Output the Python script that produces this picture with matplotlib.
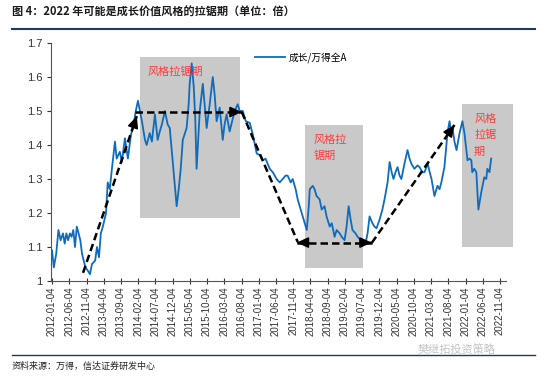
import matplotlib
matplotlib.use("Agg")
import matplotlib.pyplot as plt
import matplotlib.patches as patches
import matplotlib.dates as mdates
import pandas as pd

plt.rcParams['font.family'] = ['Liberation Sans', 'Noto Sans CJK SC', 'DejaVu Sans']

# growth / wind all-A ratio
dates = ['2012-01-04', '2012-01-20', '2012-02-10', '2012-03-01', '2012-03-20', '2012-04-10',
         '2012-04-25', '2012-05-10', '2012-05-25', '2012-06-10', '2012-06-25', '2012-07-10',
         '2012-07-25', '2012-08-10', '2012-08-25', '2012-09-10', '2012-09-25', '2012-10-10',
         '2012-10-25', '2012-11-16', '2012-12-04', '2012-12-22', '2013-01-19', '2013-02-04',
         '2013-02-22', '2013-03-10', '2013-03-28', '2013-04-25', '2013-05-10', '2013-05-28',
         '2013-06-16', '2013-07-13', '2013-07-28', '2013-08-25', '2013-09-12', '2013-10-09',
         '2013-11-04', '2013-12-01', '2013-12-19', '2014-01-13', '2014-02-01', '2014-02-19',
         '2014-03-08', '2014-04-04', '2014-04-19', '2014-05-16', '2014-06-04', '2014-07-01',
         '2014-07-25', '2014-08-13', '2014-08-31', '2014-09-27', '2014-10-22', '2014-11-09',
         '2014-12-06', '2014-12-24', '2015-01-09', '2015-01-27', '2015-02-14', '2015-03-04',
         '2015-04-07', '2015-04-25', '2015-05-04', '2015-05-22', '2015-06-09', '2015-06-22',
         '2015-07-04', '2015-07-22', '2015-08-01', '2015-08-28', '2015-09-13', '2015-10-01',
         '2015-10-28', '2015-11-24', '2015-12-10', '2015-12-28', '2016-01-24', '2016-02-20',
         '2016-03-07', '2016-03-25', '2016-04-21', '2016-05-09', '2016-06-04', '2016-07-01',
         '2016-07-19', '2016-08-15', '2016-09-10', '2016-10-16', '2016-11-12', '2016-12-16',
         '2017-01-13', '2017-02-09', '2017-03-04', '2017-04-10', '2017-05-07', '2017-06-10',
         '2017-07-07', '2017-08-03', '2017-08-28', '2017-09-15', '2017-10-12', '2017-10-30',
         '2017-11-25', '2017-12-13', '2018-01-09', '2018-01-27', '2018-02-13', '2018-03-03',
         '2018-03-21', '2018-03-30', '2018-04-25', '2018-05-11', '2018-05-29', '2018-06-25',
         '2018-07-13', '2018-08-07', '2018-08-25', '2018-09-22', '2018-10-10', '2018-11-04',
         '2018-11-22', '2018-12-19', '2019-01-06', '2019-01-31', '2019-02-18', '2019-03-08',
         '2019-03-26', '2019-04-11', '2019-05-08', '2019-05-26', '2019-06-22', '2019-07-07',
         '2019-08-04', '2019-08-22', '2019-09-09', '2019-10-04', '2019-10-22', '2019-11-09',
         '2019-12-06', '2019-12-31', '2020-01-19', '2020-02-15', '2020-03-04', '2020-03-22',
         '2020-04-07', '2020-04-25', '2020-05-13', '2020-05-31', '2020-06-16', '2020-07-13',
         '2020-08-09', '2020-08-27', '2020-09-12', '2020-10-09', '2020-11-05', '2020-11-23',
         '2020-12-19', '2021-01-06', '2021-02-03', '2021-02-21', '2021-03-09', '2021-04-04',
         '2021-05-01', '2021-05-19', '2021-06-04', '2021-07-01', '2021-07-28', '2021-08-15',
         '2021-08-31', '2021-09-10', '2021-09-28', '2021-10-16', '2021-11-12', '2021-12-07',
         '2021-12-25', '2022-01-21', '2022-02-08', '2022-02-24', '2022-03-04', '2022-03-22',
         '2022-04-09', '2022-04-27', '2022-05-22', '2022-06-18', '2022-07-06', '2022-07-15',
         '2022-08-03', '2022-08-18']
ratio = [1.09, 1.04, 1.08, 1.15, 1.12, 1.14,
         1.11, 1.14, 1.12, 1.14, 1.13, 1.15,
         1.10, 1.16, 1.14, 1.12, 1.08, 1.06,
         1.04, 1.03, 1.02, 1.05, 1.06, 1.10,
         1.07, 1.14, 1.16, 1.20, 1.29, 1.27,
         1.33, 1.41, 1.36, 1.38, 1.35, 1.42,
         1.36, 1.43, 1.45, 1.50, 1.53, 1.50,
         1.47, 1.415, 1.40, 1.435, 1.41, 1.49,
         1.415, 1.44, 1.46, 1.50, 1.46, 1.45,
         1.35, 1.28, 1.22, 1.27, 1.33, 1.415,
         1.45, 1.52, 1.58, 1.64, 1.57, 1.48,
         1.33, 1.44, 1.50, 1.58, 1.52, 1.45,
         1.52, 1.60, 1.55, 1.47, 1.51, 1.415,
         1.46, 1.49, 1.44, 1.465, 1.50, 1.52,
         1.50, 1.50, 1.47, 1.465, 1.43, 1.375,
         1.37, 1.355, 1.36, 1.33, 1.32, 1.30,
         1.29, 1.30, 1.31, 1.31, 1.29, 1.30,
         1.27, 1.24, 1.21, 1.19, 1.17, 1.15,
         1.22, 1.27, 1.28, 1.27, 1.25, 1.24,
         1.21, 1.22, 1.19, 1.16, 1.17, 1.13,
         1.15, 1.14, 1.13, 1.12, 1.16, 1.22,
         1.18, 1.15, 1.14, 1.13, 1.12, 1.12,
         1.11, 1.14, 1.19, 1.17, 1.16, 1.155,
         1.18, 1.21, 1.24, 1.29, 1.35, 1.32,
         1.30, 1.32, 1.335, 1.31, 1.30, 1.345,
         1.385, 1.36, 1.345, 1.33, 1.34, 1.335,
         1.32, 1.32, 1.345, 1.32, 1.30, 1.25,
         1.28, 1.27, 1.29, 1.335, 1.435, 1.47,
         1.435, 1.45, 1.41, 1.385, 1.435, 1.47,
         1.435, 1.355, 1.36, 1.355, 1.32, 1.33,
         1.32, 1.21, 1.26, 1.305, 1.30, 1.33,
         1.32, 1.36]

tick_labels = ['2012-01-04', '2012-06-04', '2012-11-04', '2013-04-04', '2013-09-04',
               '2014-02-04', '2014-07-04', '2014-12-04', '2015-05-04', '2015-10-04',
               '2016-03-04', '2016-08-04', '2017-01-04', '2017-06-04', '2017-11-04',
               '2018-04-04', '2018-09-04', '2019-02-04', '2019-07-04', '2019-12-04',
               '2020-05-04', '2020-10-04', '2021-03-04', '2021-08-04', '2022-01-04',
               '2022-06-04', '2022-11-04']
y_ticks = [1.0, 1.1, 1.2, 1.3, 1.4, 1.5, 1.6, 1.7]
y_labels = ['1', '1.1', '1.2', '1.3', '1.4', '1.5', '1.6', '1.7']

# shaded "拉锯期" boxes: start, end, low, high
boxes = [('2014-02-19', '2016-07-19', 1.185, 1.66),
         ('2018-02-13', '2019-07-16', 1.038, 1.46),
         ('2021-12-07', '2023-02-25', 1.10, 1.52)]
# dashed guide arrows: (x0, y0, x1, y1, head)
arrows = [('2012-10-04', 1.024, '2014-01-22', 1.485, 'end'),
          ('2014-01-07', 1.497, '2016-08-06', 1.497, 'end'),
          ('2016-08-06', 1.497, '2017-12-13', 1.115, 'none'),
          ('2017-12-04', 1.113, '2019-09-28', 1.113, 'both'),
          ('2019-09-28', 1.112, '2021-09-28', 1.459, 'end')]

fig = plt.figure(figsize=(5.5, 3.77), dpi=100)
ax = fig.add_axes([51 / 550, 96 / 377, 455 / 550, 238 / 377])

d = lambda s: mdates.date2num(pd.Timestamp(s))

for x0, x1, y0, y1 in boxes:
    r = patches.Rectangle((d(x0), y0), d(x1) - d(x0), y1 - y0, facecolor='#c9c9c9',
                          edgecolor='none', clip_on=False, zorder=1)
    ax.add_patch(r)

ax.plot(pd.to_datetime(dates), ratio, color='#0f6cbd', lw=1.3, zorder=3, label='成长/万得全A')

for x0, y0, x1, y1, head in arrows:
    ax.plot([d(x0), d(x1)], [y0, y1], color='black', lw=1.8, ls=(0, (3, 1.6)), zorder=4)
    ends = []
    if head in ('end', 'both'):
        ends.append(((x0, y0), (x1, y1)))
    if head == 'both':
        ends.append(((x1, y1), (x0, y0)))
    for (a, ya), (b, yb) in ends:
        fx = d(b) - (d(b) - d(a)) * 0.02
        fy = yb - (yb - ya) * 0.02
        ax.annotate('', xy=(d(b), yb), xytext=(fx, fy),
                    arrowprops=dict(arrowstyle='-|>,head_length=0.7,head_width=0.32',
                                    color='black', lw=1.2, shrinkA=0, shrinkB=0), zorder=5)

red = '#ff3b3b'
cjk = ['Noto Sans CJK SC']
ax.text(d('2014-04-25'), 1.615, '风格拉锯期', color=red, fontsize=8, family=cjk, va='center')
ax.text(d('2018-05-01'), 1.415, '风格拉', color=red, fontsize=8, family=cjk, va='center')
ax.text(d('2018-05-01'), 1.37, '锯期', color=red, fontsize=8, family=cjk, va='center')
ax.text(d('2022-03-20'), 1.478, '风格', color=red, fontsize=8, family=cjk, va='center')
ax.text(d('2022-03-20'), 1.43, '拉锯', color=red, fontsize=8, family=cjk, va='center')
ax.text(d('2022-03-20'), 1.38, '期', color=red, fontsize=8, family=cjk, va='center')

ax.set_ylim(1.0, 1.7)
ax.set_xlim(d('2011-12-26'), d('2022-12-27'))
ax.set_yticks(y_ticks)
ax.set_yticklabels(y_labels)
ax.set_xticks([d(t) for t in tick_labels])
ax.set_xticklabels(tick_labels, rotation=90)
ax.tick_params(axis='x', direction='inout', length=4, labelsize=7, colors='#333333', pad=2)
ax.tick_params(axis='y', direction='out', length=3, labelsize=8, colors='#333333', pad=3)
for s in ('top', 'right'):
    ax.spines[s].set_visible(False)
for s in ('left', 'bottom'):
    ax.spines[s].set_color('#555555')
    ax.spines[s].set_linewidth(0.8)

leg = ax.legend(loc='upper left', bbox_to_anchor=(0.43, 1.0), frameon=False,
                prop={'family': cjk, 'size': 7}, handlelength=3.0, handletextpad=0.4)

fig.text(12 / 550, 1 - 12 / 377, '图 4：2022 年可能是成长价值风格的拉锯期（单位：倍）',
         fontsize=8, fontweight='bold', family=cjk, color='#1a1a1a', va='center')
fig.add_artist(plt.Line2D([12 / 550, 535 / 550], [1 - 29 / 377] * 2, color='#1f3864', lw=1.5))
fig.add_artist(plt.Line2D([12 / 550, 535 / 550], [1 - 355 / 377] * 2, color='#1f3864', lw=1.0))
fig.text(12 / 550, 1 - 366 / 377, '资料来源：万得，信达证券研发中心', fontsize=6.5, family=cjk,
         color='#222222', va='center', style='italic')
fig.text(418 / 550, 1 - 349 / 377, '樊继拓投资策略', fontsize=8, family=cjk,
         color='#b5b5b5', va='center', alpha=0.8)

fig.savefig('out.png', dpi=100)
